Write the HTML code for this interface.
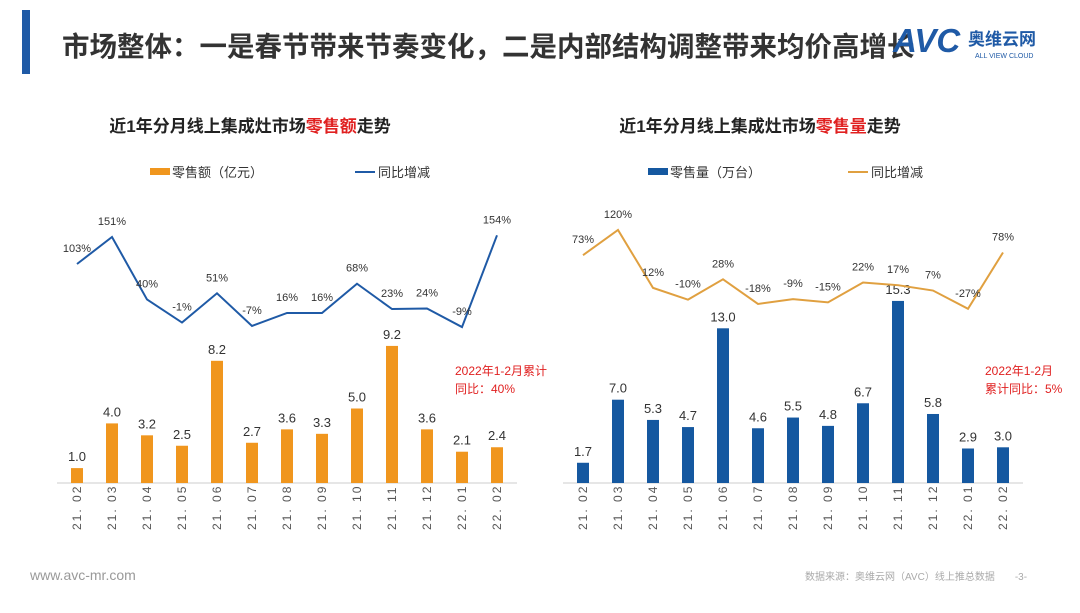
<!DOCTYPE html>
<html><head><meta charset="utf-8">
<style>
body{margin:0;width:1080px;height:608px;background:#fff;overflow:hidden;font-family:"Liberation Sans","Noto Sans CJK SC",sans-serif;}
svg text{font-family:"Liberation Sans","Noto Sans CJK SC",sans-serif;}
</style></head><body>
<svg id="s" width="1080" height="608" xmlns="http://www.w3.org/2000/svg">
<rect x="22" y="10" width="8" height="64" fill="#1f5aa6"/>
<text x="62" y="56" font-size="27.5" font-weight="bold" fill="#333">市场整体：一是春节带来节奏变化，二是内部结构调整带来均价高增长</text>
<g>
<text x="893" y="52" font-size="33" font-weight="bold" font-style="italic" fill="#1f5aa6">AVC</text>
<text x="968" y="45" font-size="17" font-weight="bold" fill="#1f5aa6">奥维云网</text>
<text x="975" y="58" font-size="7" fill="#1f5aa6">ALL VIEW CLOUD</text>
</g>
<text x="250" y="132" font-size="17" font-weight="bold" fill="#222" text-anchor="middle">近1年分月线上集成灶市场<tspan fill="#e02020">零售额</tspan>走势</text>
<text x="760" y="132" font-size="17" font-weight="bold" fill="#222" text-anchor="middle">近1年分月线上集成灶市场<tspan fill="#e02020">零售量</tspan>走势</text>
<g>
<rect x="150" y="168" width="20" height="7" fill="#f0961e"/><text x="172" y="177" font-size="13" fill="#333">零售额（亿元）</text>
<line x1="355" y1="172" x2="375" y2="172" stroke="#1f5aa6" stroke-width="2"/><text x="378" y="177" font-size="13" fill="#333">同比增减</text>
</g>
<g>
<rect x="648" y="168" width="20" height="7" fill="#1558a0"/><text x="670" y="177" font-size="13" fill="#333">零售量（万台）</text>
<line x1="848" y1="172" x2="868" y2="172" stroke="#e0a040" stroke-width="2"/><text x="871" y="177" font-size="13" fill="#333">同比增减</text>
</g>
<text font-size="12" fill="#e02020"><tspan x="455" y="375">2022年1-2月累计</tspan><tspan x="455" y="393">同比：40%</tspan></text>
<text font-size="12" fill="#e02020"><tspan x="985" y="375">2022年1-2月</tspan><tspan x="985" y="393">累计同比：5%</tspan></text>
<text x="30" y="580" font-size="14" fill="#999">www.avc-mr.com</text>
<text x="805" y="580" font-size="10" fill="#aaa">数据来源：奥维云网（AVC）线上推总数据　　-3-</text>
<g id="L"></g><g id="R"></g>
</svg>
<script>
const months=["21.02","21.03","21.04","21.05","21.06","21.07","21.08","21.09","21.10","21.11","21.12","22.01","22.02"];
const salesValue=[1.0,4.0,3.2,2.5,8.2,2.7,3.6,3.3,5.0,9.2,3.6,2.1,2.4];
const valueYoY=[103,151,40,-1,51,-7,16,16,68,23,24,-9,154];
const salesVolume=[1.7,7.0,5.3,4.7,13.0,4.6,5.5,4.8,6.7,15.3,5.8,2.9,3.0];
const volumeYoY=[73,120,12,-10,28,-18,-9,-15,22,17,7,-27,78];
const NS="http://www.w3.org/2000/svg";
function mk(p,t,a){const e=document.createElementNS(NS,t);for(const k in a)e.setAttribute(k,a[k]);p.appendChild(e);return e;}
function chart(g,x0,bars,barScale,barColor,fmt,yoy,lineB,lineS,lineColor,prefix){
  const step=35,base=483;
  const xs=i=>x0+i*step;
  const ax=mk(g,'line',{x1:x0-20,y1:base,x2:x0+12*step+20,y2:base,stroke:'#ccc'});
  
  months.forEach((m,i)=>{
    const h=bars[i]*barScale;
    const r=mk(g,'rect',{x:xs(i)-6,y:base-h,width:12,height:h,fill:barColor});
    
    const t=mk(g,'text',{x:xs(i),y:base-h-7,'font-size':13,fill:'#333','text-anchor':'middle'});
    t.textContent=fmt(bars[i]);
    
    const xl=mk(g,'text',{transform:`translate(${xs(i)+4},530) rotate(-90)`,'font-size':12,fill:'#555','letter-spacing':'2'});
    xl.textContent=m.replace('.','. ');
    
  });
  const ly=v=>lineB-lineS*v;
  const pl=mk(g,'polyline',{points:yoy.map((v,i)=>xs(i)+','+ly(v)).join(' '),fill:'none',stroke:lineColor,'stroke-width':2});
  
  yoy.forEach((v,i)=>{
    const t=mk(g,'text',{x:xs(i),y:ly(v)-12,'font-size':11,fill:'#333','text-anchor':'middle'});
    t.textContent=v+'%';
    
  });
}
chart(document.getElementById('L'),77,salesValue,14.9,'#f0961e',v=>v.toFixed(1),valueYoY,322,0.563,'#1f5aa6','value');
chart(document.getElementById('R'),583,salesVolume,11.9,'#1558a0',v=>v.toFixed(1),volumeYoY,294.3,0.536,'#e0a040','volume');
</script>
</body></html>
